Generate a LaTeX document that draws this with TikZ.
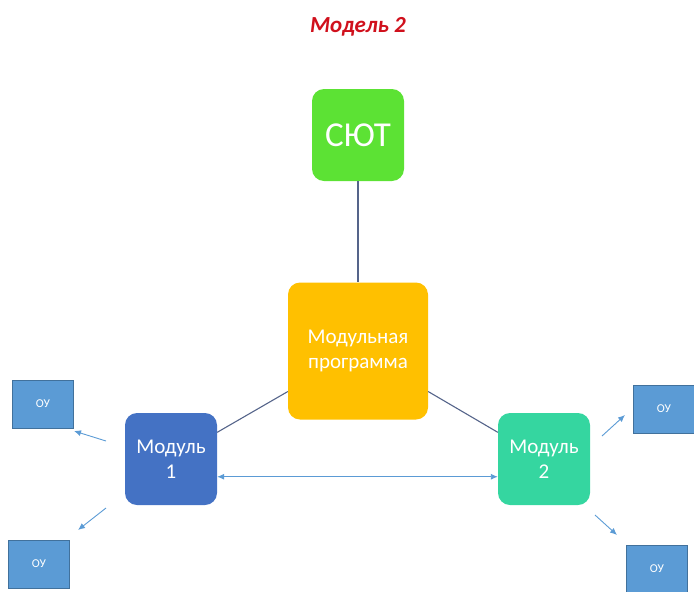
\documentclass[tikz,border=0pt]{standalone}
\usepackage{fontspec}
\setmainfont{Carlito}
\usetikzlibrary{arrows.meta}
\definecolor{titlered}{HTML}{D0101C}
\definecolor{sutgreen}{HTML}{5CE234}
\definecolor{progorange}{HTML}{FFC000}
\definecolor{modblue}{HTML}{4472C4}
\definecolor{modteal}{HTML}{35D6A0}
\definecolor{oufill}{HTML}{5B9BD5}
\definecolor{oudraw}{HTML}{41719C}
\definecolor{linkcol}{HTML}{55648A}
\definecolor{arrcol}{HTML}{5B9BD5}
\tikzset{box/.style = {rounded corners=12pt, inner sep=0pt, align=center,
                       text=white, minimum width=92pt, minimum height=92pt,
                       font=\fontsize{21}{25}\selectfont}}
\tikzset{oubox/.style = {draw=oudraw, fill=oufill, inner sep=0pt, text=white,
                         minimum width=61pt, minimum height=48pt,
                         font=\fontsize{12}{14}\selectfont}}
\tikzset{link/.style = {draw=linkcol, line width=1.1pt}}
\tikzset{arr/.style = {draw=arrcol, line width=0.9pt,
                       -{Latex[length=7pt,width=6pt]}}}
\tikzset{dblarr/.style = {draw=arrcol, line width=0.9pt,
                       {Latex[length=7pt,width=6pt]}-{Latex[length=7pt,width=6pt]}}}
\begin{document}
\begin{tikzpicture}[x=1pt,y=-1pt]
	\useasboundingbox (0,0) rectangle (694,592);
	\node (title) at (358,27) [text=titlered, font=\fontsize{23}{27}\selectfont\bfseries\itshape] {Модель 2};
	% boxes
	\node[box, fill=sutgreen, font=\fontsize{35}{40}\selectfont] (sut) at (358,135) {СЮТ};
	\node[box, fill=progorange, minimum width=140pt, minimum height=137pt] (prog) at (358,351) {Модульная\\программа};
	\node[box, fill=modblue] (m1) at (171,459) {Модуль\\1};
	\node[box, fill=modteal] (m2) at (544,459) {Модуль\\2};
	\node[oubox] (ou1) at (43,404) {ОУ};
	\node[oubox] (ou2) at (39,564) {ОУ};
	\node[oubox] (ou3) at (664,409) {ОУ};
	\node[oubox] (ou4) at (657,569) {ОУ};
	% links
	\draw[link] (sut) -- (prog);
	\draw[link] (prog.210) -- (m1.30);
	\draw[link] (prog.-30) -- (m2.150);
	\draw[dblarr] (m1.-21) -- (m2.201);
	% free arrows to the OU boxes
	\coordinate (a1s) at (106,441); \coordinate (a1e) at (74,431);
	\coordinate (a2s) at (106,508); \coordinate (a2e) at (78,530);
	\coordinate (a3s) at (602,436); \coordinate (a3e) at (625,415);
	\coordinate (a4s) at (595,515); \coordinate (a4e) at (617,535);
	\draw[arr] (a1s) -- (a1e);
	\draw[arr] (a2s) -- (a2e);
	\draw[arr] (a3s) -- (a3e);
	\draw[arr] (a4s) -- (a4e);
\end{tikzpicture}
\end{document}
